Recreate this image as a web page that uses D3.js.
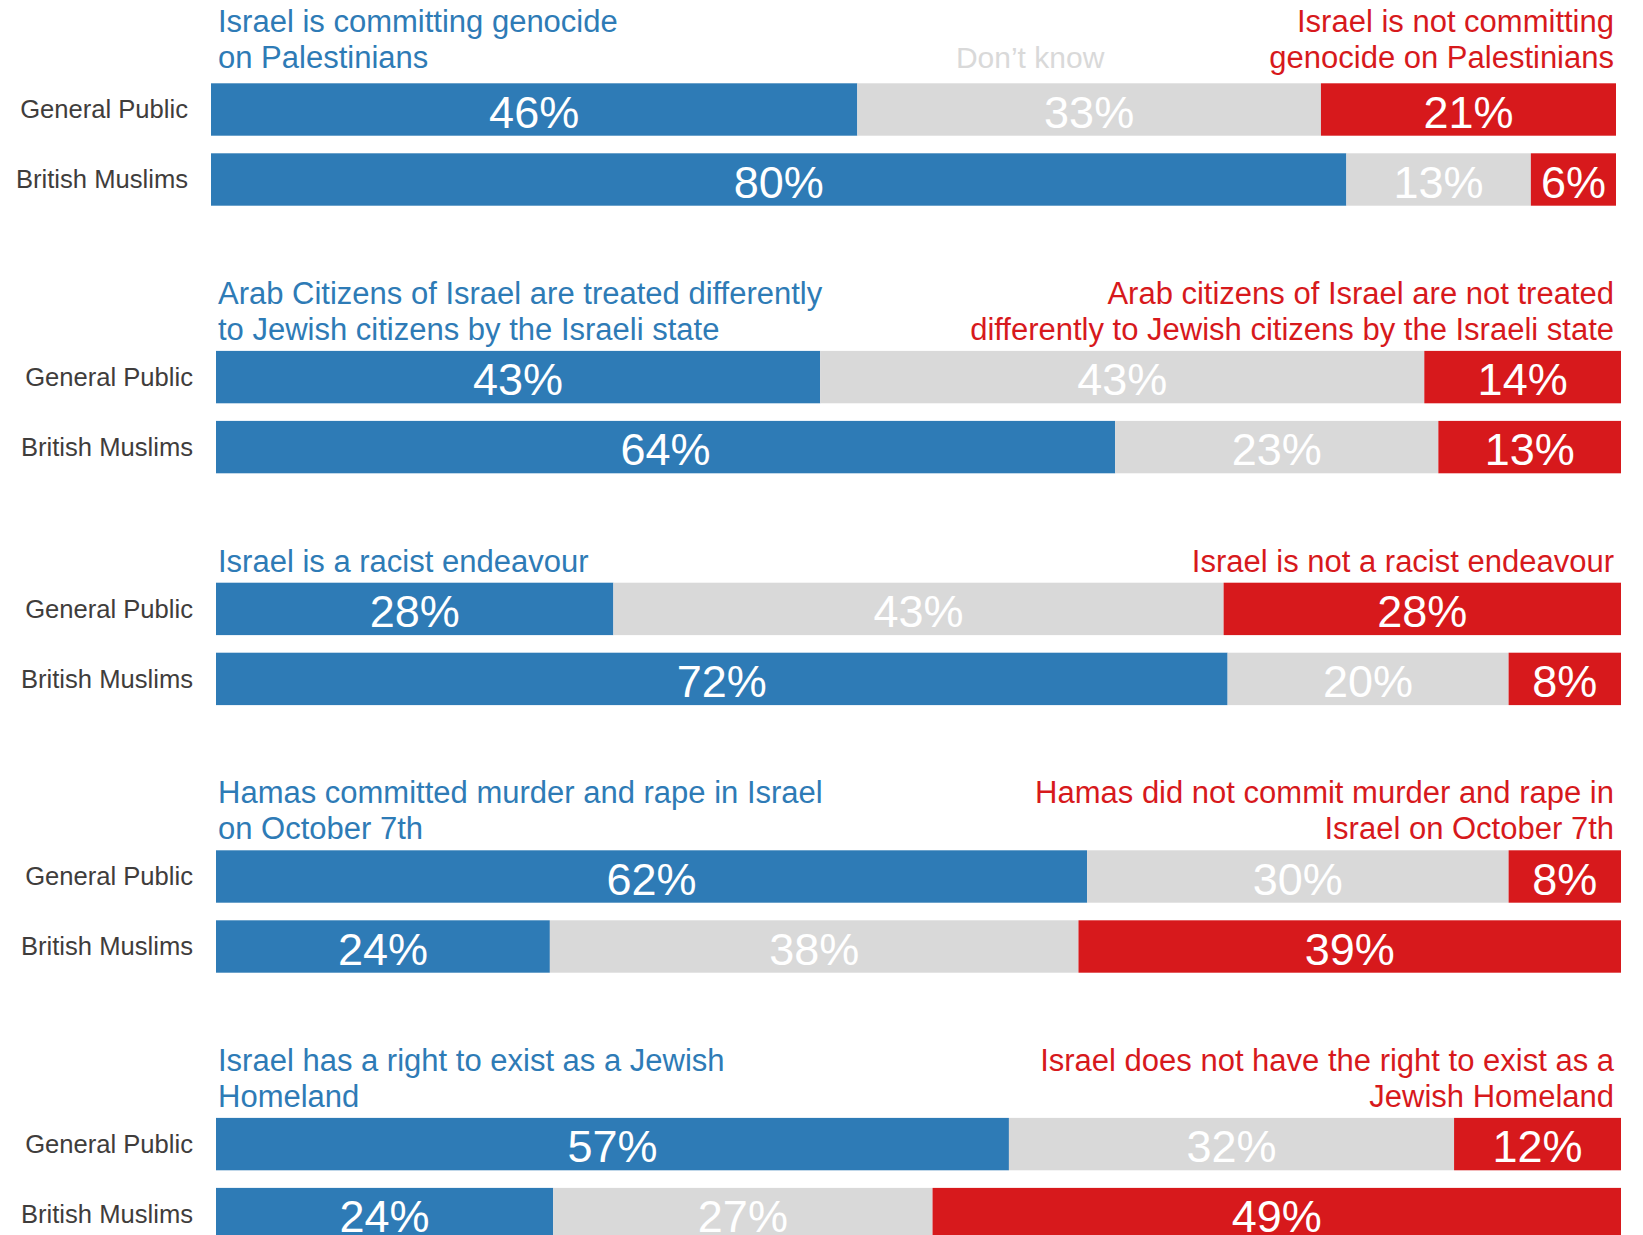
<!DOCTYPE html>
<html>
<head>
<meta charset="utf-8">
<script src="https://cdn.jsdelivr.net/npm/d3@7"></script>
<style>
  html, body { margin: 0; padding: 0; background: #ffffff; }
  svg { display: block; }
  text { font-family: "Liberation Sans", Arial, Helvetica, sans-serif; }
</style>
</head>
<body>
<svg id="chart" width="1643" height="1235"></svg>
<script>
// ---------------- DATA ----------------
const groups = ["General Public", "British Muslims"];

const agreeTitles = [
  ["Israel is committing genocide", "on Palestinians"],
  ["Arab Citizens of Israel are treated differently", "to Jewish citizens by the Israeli state"],
  ["Israel is a racist endeavour"],
  ["Hamas committed murder and rape in Israel", "on October 7th"],
  ["Israel has a right to exist as a Jewish", "Homeland"]
];

const disagreeTitles = [
  ["Israel is not committing", "genocide on Palestinians"],
  ["Arab citizens of Israel are not treated", "differently to Jewish citizens by the Israeli state"],
  ["Israel is not a racist endeavour"],
  ["Hamas did not commit murder and rape in", "Israel on October 7th"],
  ["Israel does not have the right to exist as a", "Jewish Homeland"]
];

const dontKnowLabel = "Don\u2019t know";

// values per statement: [General Public, British Muslims]
const agree    = [[46, 80], [43, 64], [28, 72], [62, 24], [57, 24]];
const dontKnow = [[33, 13], [43, 23], [43, 20], [30, 38], [32, 27]];
const disagree = [[21, 6],  [14, 13], [28, 8],  [8, 39],  [12, 49]];

// ---------------- STYLE / LAYOUT ----------------
const BLUE = "#2e7bb6";
const GREY = "#d9d9d9";
const RED = "#d7191c";
const LABEL = "#3f3d3c";
const segColors = [BLUE, GREY, RED];

const svg = d3.select("#chart");

const barLeft = 216, barRight = 1621;
const firstBarTop = 83.3;
const lineH = 35.8;
const baseGap = 196;

const yRows = d3.scaleBand().domain(groups).range([0, 122.4]).paddingInner(17.6 / 70).paddingOuter(0);

let panelTop = firstBarTop;
agree.forEach((_, i) => {
  if (i > 0) panelTop += baseGap + lineH * agreeTitles[i].length;
  const shift = i === 0 ? -5 : 0;
  const x = d3.scaleLinear().domain([0, 1]).range([barLeft + shift, barRight + shift]);
  const g = svg.append("g").attr("transform", `translate(0,${panelTop})`);

  // titles
  const nLines = agreeTitles[i].length;
  const lastBase = i === 0 ? -15 : -11;
  const at = g.append("text").attr("fill", BLUE).attr("font-size", 31);
  agreeTitles[i].forEach((t, k) => {
    at.append("tspan").attr("x", barLeft + 2).attr("y", lastBase - (nLines - 1 - k) * 36).text(t);
  });
  const dt = g.append("text").attr("fill", RED).attr("font-size", 31).attr("text-anchor", "end");
  const nL2 = disagreeTitles[i].length;
  disagreeTitles[i].forEach((t, k) => {
    dt.append("tspan").attr("x", barRight - 7).attr("y", lastBase - (nL2 - 1 - k) * 36).text(t);
  });
  if (i === 0) {
    g.append("text").attr("fill", GREY).attr("font-size", 30).attr("text-anchor", "middle")
      .attr("x", x(0.583)).attr("y", -15).text(dontKnowLabel);
  }

  groups.forEach((grp, r) => {
    const vals = [agree[i][r], dontKnow[i][r], disagree[i][r]];
    const total = d3.sum(vals);
    let cum = 0;
    const segs = vals.map((v, s) => {
      const o = { v, s, x0: cum / total, x1: (cum + v) / total };
      cum += v;
      return o;
    });
    const y0 = yRows(grp);
    const row = g.append("g");
    row.selectAll("rect").data(segs).join("rect")
      .attr("x", d => x(d.x0))
      .attr("width", d => x(d.x1) - x(d.x0))
      .attr("y", y0)
      .attr("height", yRows.bandwidth())
      .attr("fill", d => segColors[d.s]);
    row.selectAll("text.pct").data(segs).join("text")
      .attr("class", "pct")
      .attr("x", d => (x(d.x0) + x(d.x1)) / 2)
      .attr("y", y0 + 44.5)
      .attr("text-anchor", "middle")
      .attr("font-size", 45)
      .attr("fill", "#ffffff")
      .text(d => d.v + "%");
    row.append("text")
      .attr("x", x(0) - 23)
      .attr("y", y0 + yRows.bandwidth() / 2)
      .attr("dy", "0.35em")
      .attr("text-anchor", "end")
      .attr("font-size", 25.6)
      .attr("fill", LABEL)
      .text(grp);
  });
});
</script>
</body>
</html>
